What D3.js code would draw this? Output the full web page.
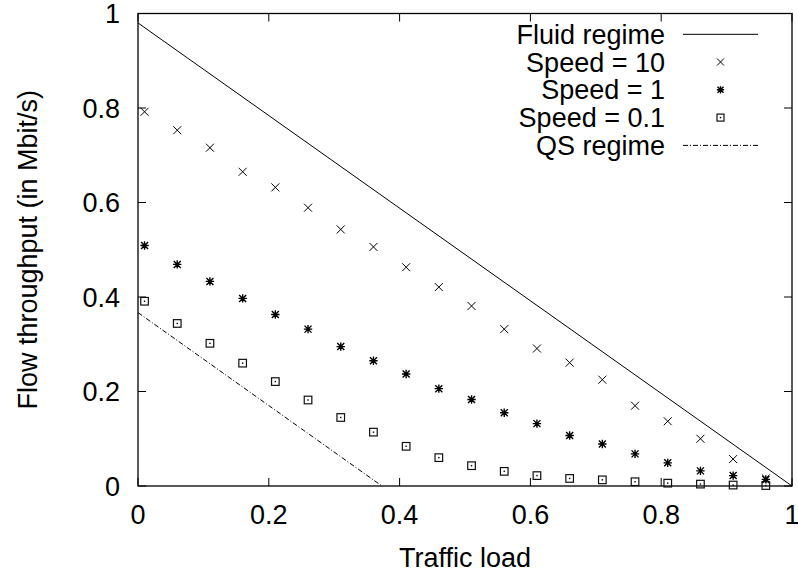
<!DOCTYPE html>
<html><head><meta charset="utf-8">
<script src="https://cdn.jsdelivr.net/npm/d3@7"></script>
<style>body{margin:0;background:#fff}svg{display:block}text{font-family:"Liberation Sans",Arial,sans-serif;fill:#000}</style>
</head><body><svg id="c" width="798" height="574"></svg>
<script>
// data
const loads = [0.01,0.06,0.11,0.16,0.21,0.26,0.31,0.36,0.41,0.46,0.51,0.56,0.61,0.66,0.71,0.76,0.81,0.86,0.91,0.96];
const speed10 = [0.792,0.753,0.716,0.665,0.632,0.589,0.543,0.506,0.463,0.421,0.381,0.332,0.291,0.261,0.225,0.170,0.137,0.100,0.057,0.016];
const speed1 = [0.509,0.469,0.433,0.397,0.363,0.332,0.295,0.265,0.237,0.206,0.183,0.155,0.132,0.107,0.089,0.068,0.049,0.032,0.022,0.014];
const speed01 = [0.391,0.344,0.302,0.260,0.221,0.182,0.145,0.114,0.084,0.060,0.043,0.031,0.022,0.016,0.013,0.009,0.006,0.004,0.002,0.001];
const fluidX = [0,1], fluidY = [0.98,0];
const qsX = [0,0.373], qsY = [0.367,0];
const xTicks = [0,0.2,0.4,0.6,0.8,1];
const yTicks = [0,0.2,0.4,0.6,0.8,1];
const legendLabels = ["Fluid regime","Speed = 10","Speed = 1","Speed = 0.1","QS regime"];

const svg = d3.select("#c");
const L=138,R=792,T=13.5,B=486, FS=27;
const x = d3.scaleLinear().domain([0,1]).range([L,R]);
const y = d3.scaleLinear().domain([0,1]).range([B,T]);

// frame
svg.append("rect").attr("x",L).attr("y",T).attr("width",R-L).attr("height",B-T)
  .attr("fill","none").attr("stroke","#000").attr("stroke-width",1.3);

const tk = 8;
const g = svg.append("g").attr("stroke","#000").attr("stroke-width",1);
xTicks.forEach(v=>{
  g.append("line").attr("x1",x(v)).attr("x2",x(v)).attr("y1",B).attr("y2",B-tk);
  g.append("line").attr("x1",x(v)).attr("x2",x(v)).attr("y1",T).attr("y2",T+tk);
});
yTicks.forEach(v=>{
  g.append("line").attr("x1",L).attr("x2",L+tk).attr("y1",y(v)).attr("y2",y(v));
  g.append("line").attr("x1",R).attr("x2",R-tk).attr("y1",y(v)).attr("y2",y(v));
});
const fmt = d=>String(d);
svg.selectAll(".xl").data(xTicks).enter().append("text")
  .attr("x",d=>x(d)).attr("y",524).attr("text-anchor","middle").attr("font-size",FS).text(fmt);
svg.selectAll(".yl").data(yTicks).enter().append("text")
  .attr("x",120).attr("y",d=>y(d)+9.5).attr("text-anchor","end").attr("font-size",FS).text(fmt);

svg.append("text").attr("x",(L+R)/2).attr("y",567).attr("text-anchor","middle").attr("font-size",FS).text("Traffic load");
svg.append("text").attr("transform",`translate(37,${(T+B)/2}) rotate(-90)`).attr("text-anchor","middle").attr("font-size",FS).text("Flow throughput (in Mbit/s)");

const line = d3.line().x(d=>x(d[0])).y(d=>y(d[1]));
svg.append("path").attr("d",line(fluidX.map((v,i)=>[v,fluidY[i]]))).attr("stroke","#000").attr("fill","none").attr("stroke-width",1);
svg.append("path").attr("d",line(qsX.map((v,i)=>[v,qsY[i]]))).attr("stroke","#000").attr("fill","none").attr("stroke-width",1).attr("stroke-dasharray","5,2,1,2");

function cross(sel,cx,cy,s){
  sel.append("path").attr("d",`M${cx-s},${cy-s}L${cx+s},${cy+s}M${cx-s},${cy+s}L${cx+s},${cy-s}`)
    .attr("stroke","#000").attr("stroke-width",1).attr("fill","none");
}
function star(sel,cx,cy,s){
  sel.append("path").attr("d",`M${cx-s},${cy-s}L${cx+s},${cy+s}M${cx-s},${cy+s}L${cx+s},${cy-s}M${cx-s*1.2},${cy}L${cx+s*1.2},${cy}M${cx},${cy-s*1.2}L${cx},${cy+s*1.2}`)
    .attr("stroke","#000").attr("stroke-width",1.4).attr("fill","none");
}
function box(sel,cx,cy,s){
  sel.append("rect").attr("x",cx-s).attr("y",cy-s).attr("width",2*s).attr("height",2*s)
    .attr("stroke","#111").attr("stroke-width",1.2).attr("fill","none");
  sel.append("rect").attr("x",cx-0.7).attr("y",cy-0.7).attr("width",1.4).attr("height",1.4).attr("fill","#000");
}
const pts = svg.append("g");
loads.forEach((lx,i)=>{
  cross(pts,x(lx),y(speed10[i]),4);
  star(pts,x(lx),y(speed1[i]),3.5);
  box(pts,x(lx),y(speed01[i]),3.8);
});

// legend
const lg = svg.append("g");
const rowY = [34.3,62,89.8,117.6,145.4];
const lx1=683, lx2=758, lxm=720.5;
legendLabels.forEach((t,i)=>{
  lg.append("text").attr("x",665).attr("y",rowY[i]+9.5).attr("text-anchor","end").attr("font-size",FS).text(t);
});
lg.append("line").attr("x1",lx1).attr("x2",lx2).attr("y1",rowY[0]).attr("y2",rowY[0]).attr("stroke","#000");
cross(lg,lxm,rowY[1],3.5);
star(lg,lxm,rowY[2],3);
box(lg,lxm,rowY[3],3.5);
lg.append("line").attr("x1",lx1).attr("x2",lx2).attr("y1",rowY[4]).attr("y2",rowY[4]).attr("stroke","#000").attr("stroke-dasharray","5,2,1,2");
</script></body></html>
